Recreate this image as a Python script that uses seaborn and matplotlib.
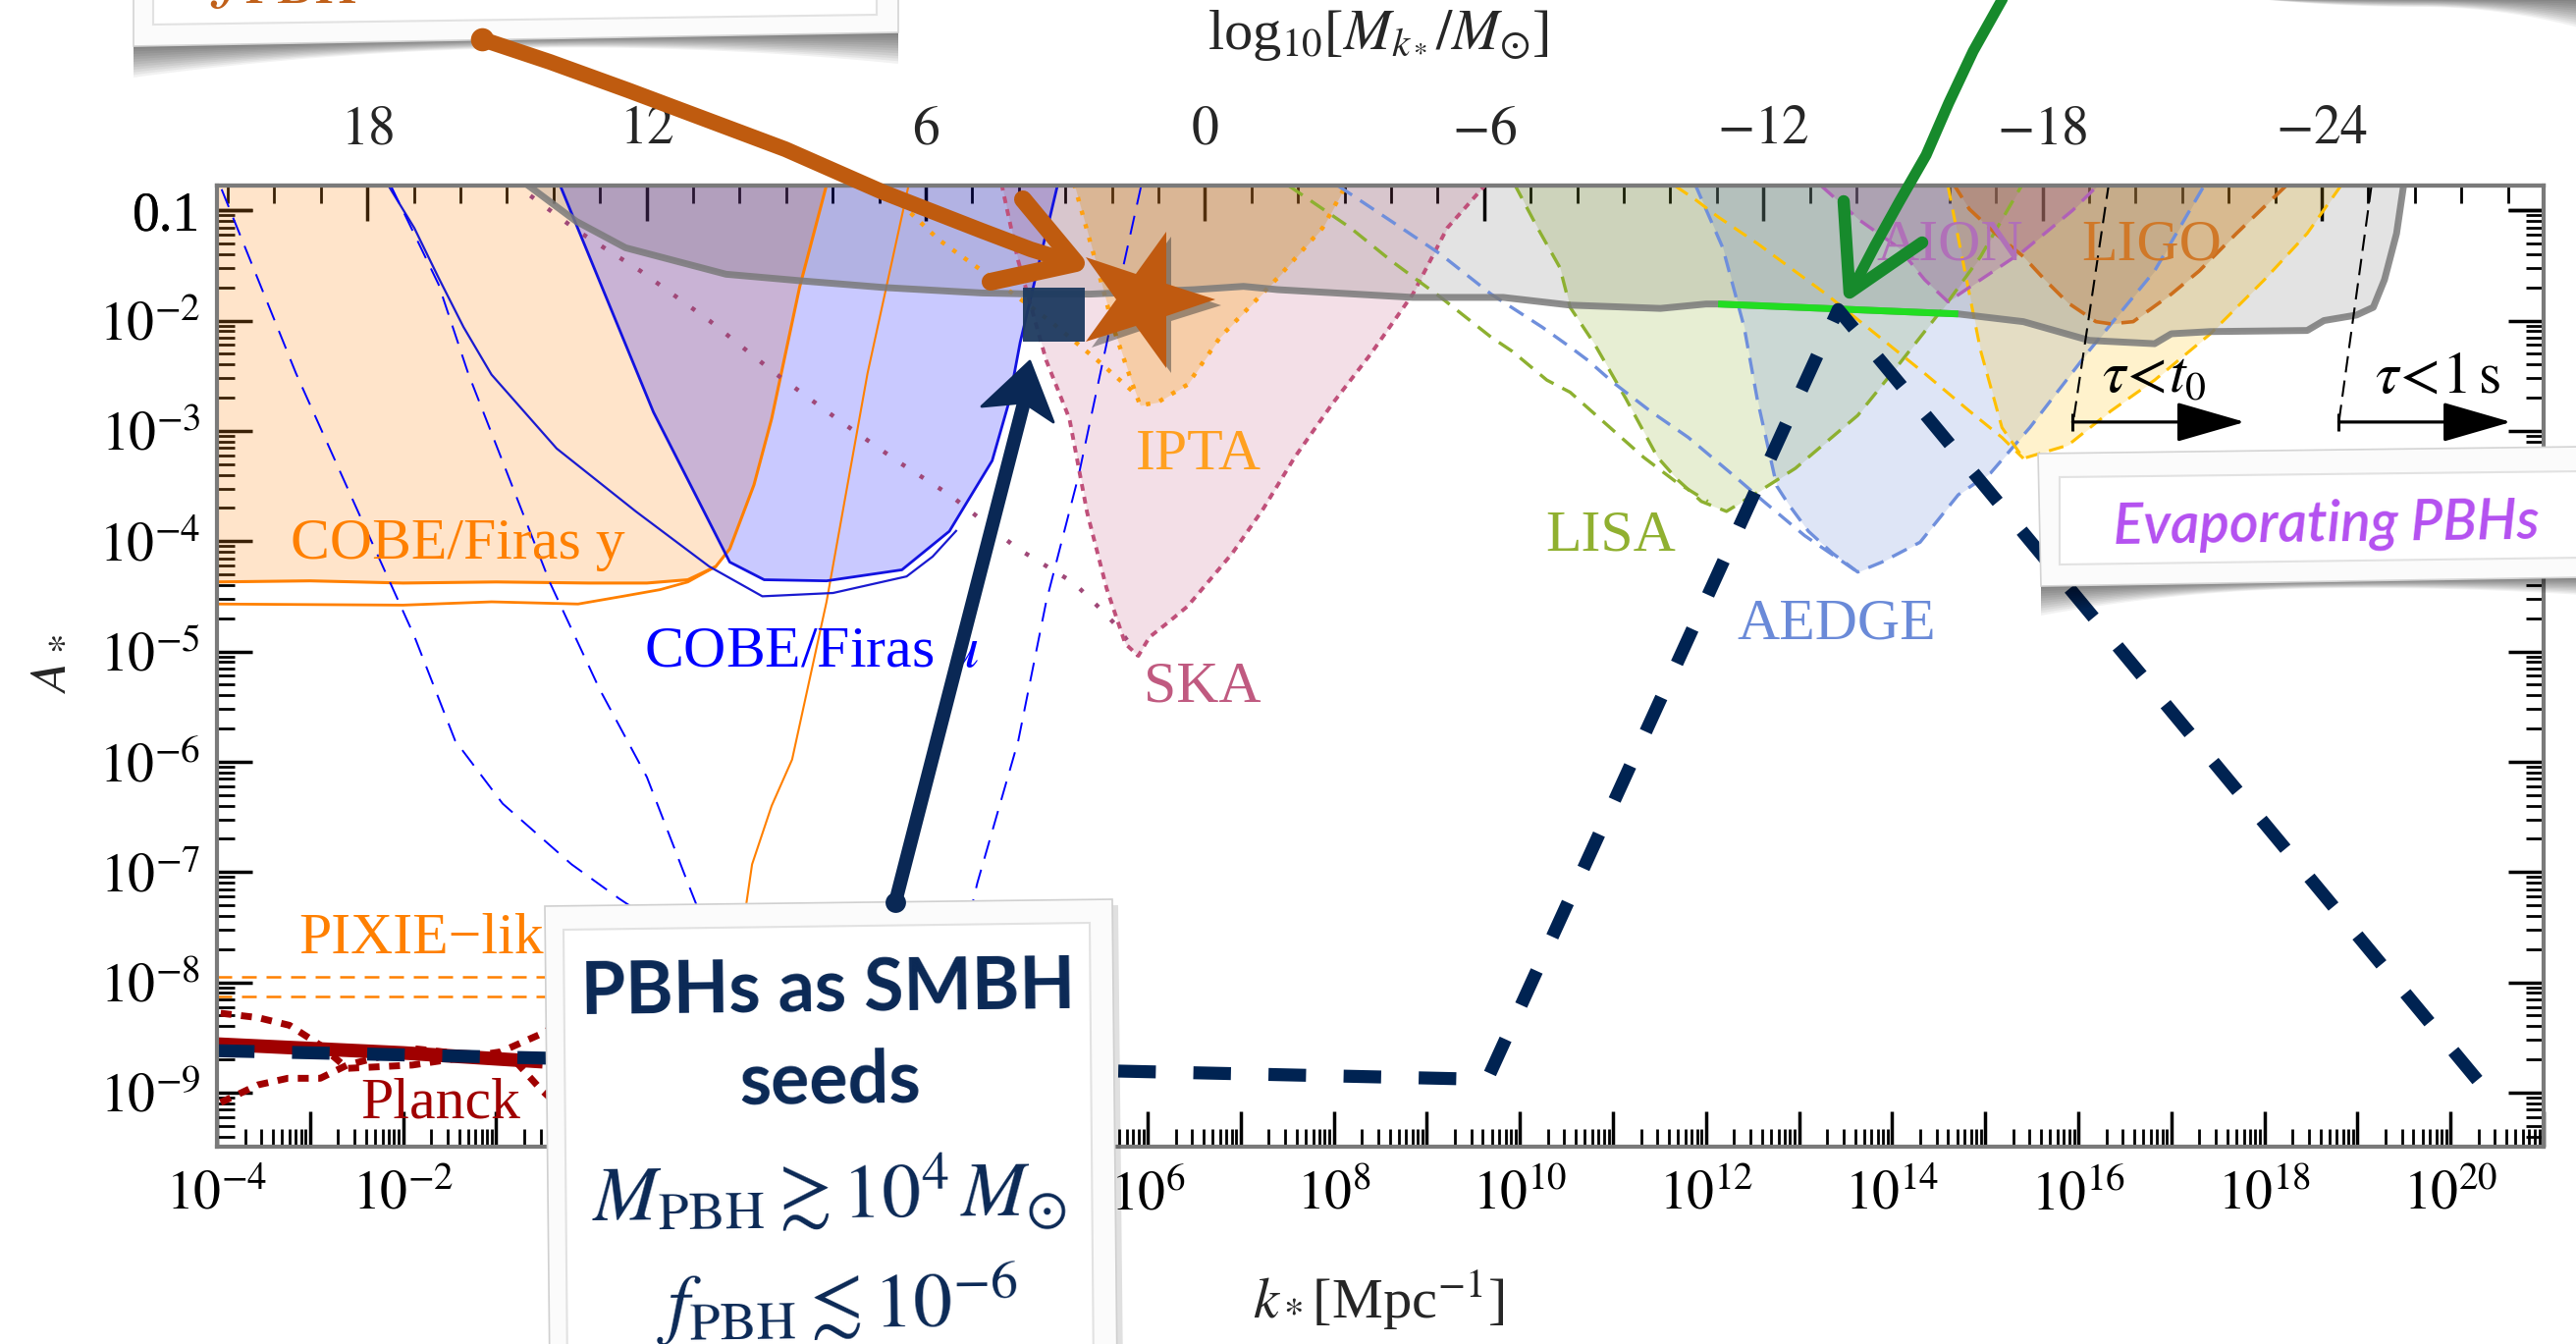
import numpy as np
import matplotlib
matplotlib.use("Agg")
import matplotlib.pyplot as plt
import matplotlib.ticker as mticker
import matplotlib.patheffects as pe
from matplotlib.lines import Line2D
from matplotlib.patches import Polygon, Rectangle
from matplotlib.markers import MarkerStyle
from matplotlib.transforms import Affine2D
import seaborn as sns

# ---------------------------------------------------------------------------
# Curves, given as log10 k_* [Mpc^-1] (_lk) and log10 A_* (_la)
# ---------------------------------------------------------------------------
cobe_y_lk = [-4.0, -3.0, -2.0, -1.0, 0.0, 0.62, 1.06, 1.36, 1.51, 1.77, 1.96, 2.26, 2.55]
cobe_y_la = [-4.37, -4.36, -4.38, -4.37, -4.38, -4.38, -4.35, -4.23, -4.07, -3.49, -2.89, -1.70, -0.77]

cobe_y2_lk = [-4.0, -2.0, -1.05, -0.12, 0.36, 0.76, 1.06, 1.36]
cobe_y2_la = [-4.57, -4.58, -4.55, -4.57, -4.50, -4.44, -4.37, -4.23]

pixie_mu_lk = [1.43, 1.61, 1.75, 1.96, 2.18, 2.55, 2.99, 3.43]
pixie_mu_la = [-9.5, -7.74, -6.93, -6.40, -5.98, -4.55, -2.48, -0.78]

pixie_lk = [-4.0, -2.0, 0.0]
pixie_a_la = [-7.95, -7.95, -7.95]
pixie_b_la = [-8.13, -8.13, -8.13]

cobe_mu_lk = [-0.31, 0.69, 1.51, 1.88, 2.55, 3.36, 3.87, 4.33, 4.51, 4.63, 5.03]
cobe_mu_la = [-0.78, -2.83, -4.19, -4.35, -4.36, -4.26, -3.91, -3.27, -2.74, -2.20, -0.78]

cobe_mu2_lk = [-2.17, -1.88, -1.62, -1.35, -1.05, -0.35, 0.50, 1.29, 1.86, 2.62, 3.41, 3.69, 3.95]
cobe_mu2_la = [-0.76, -1.16, -1.61, -2.06, -2.49, -3.16, -3.73, -4.23, -4.50, -4.47, -4.32, -4.14, -3.90]

mu_dash1_lk = [-3.95, -3.15, -2.48, -1.88, -1.44, -0.93, -0.19, 0.32, 0.73, 1.20]
mu_dash1_la = [-0.81, -2.48, -3.74, -4.86, -5.81, -6.38, -6.93, -7.24, -7.47, -7.80]

mu_dash2_lk = [-2.13, -1.62, -1.30, -0.86, -0.42, 0.11, 0.62, 1.06, 1.43]
mu_dash2_la = [-0.78, -1.67, -2.48, -3.43, -4.38, -5.34, -6.14, -7.10, -7.89]

mu_dash3_lk = [5.93, 5.67, 5.26, 4.91, 4.61, 4.17, 3.99, 3.80]
mu_dash3_la = [-0.78, -1.77, -3.40, -4.55, -5.81, -7.10, -7.74, -8.40]

nanograv_lk = [3.11, 3.46, 3.76, 4.19, 4.56, 4.96, 5.46, 5.85]
nanograv_la = [-0.78, -1.03, -1.27, -1.53, -1.76, -2.01, -2.36, -2.65]

ipta_lk = [5.21, 5.46, 5.63, 5.83, 5.92, 6.11, 6.43, 6.78, 7.40, 7.88, 8.12]
ipta_la = [-0.76, -1.52, -2.06, -2.56, -2.77, -2.74, -2.58, -2.15, -1.61, -1.16, -0.79]

ska_lk = [4.43, 4.61, 4.91, 5.16, 5.35, 5.56, 5.76, 5.90, 6.02, 6.23, 6.43, 6.91, 7.24,
          7.58, 7.98, 8.40, 8.85, 9.22, 9.64]
ska_la = [-0.76, -1.46, -2.36, -2.89, -3.74, -4.43, -4.93, -5.04, -4.87, -4.73, -4.59, -4.11,
          -3.71, -3.24, -2.76, -2.30, -1.76, -1.16, -0.76]

ska_now_lk = [-0.82, -0.12, 0.55, 1.29, 2.00, 2.71, 3.32, 3.89, 4.59, 5.21, 5.50, 5.67, 5.90]
ska_now_la = [-0.75, -1.19, -1.55, -2.00, -2.48, -2.92, -3.28, -3.59, -4.06, -4.38, -4.62, -4.77, -5.04]

lisa_lk = [9.94, 10.19, 10.43, 10.54, 10.80, 11.14, 11.48, 11.69, 11.95, 12.22, 12.55, 12.96,
           13.63, 14.07, 14.60, 14.95, 15.41]
lisa_la = [-0.76, -1.16, -1.52, -1.88, -2.21, -2.71, -3.24, -3.44, -3.64, -3.73, -3.56, -3.34,
           -2.86, -2.40, -1.83, -1.42, -0.75]

lisa_b_lk = [7.52, 8.18, 8.62, 9.15, 9.69, 9.92, 10.29, 10.54, 11.33, 11.69, 12.02]
lisa_b_la = [-0.78, -1.16, -1.46, -1.79, -2.15, -2.28, -2.54, -2.65, -3.24, -3.47, -3.64]

aedge_lk = [11.88, 12.18, 12.41, 12.55, 12.76, 12.89, 13.10, 13.36, 13.63, 13.89, 14.30, 14.71,
            15.06, 15.48, 16.12, 16.82, 17.35]
aedge_la = [-0.76, -1.34, -2.06, -2.71, -3.50, -3.67, -3.91, -4.11, -4.28, -4.19, -4.01, -3.58,
            -3.38, -2.97, -2.27, -1.55, -0.78]

aedge_b_lk = [8.05, 8.62, 9.15, 9.69, 10.24, 10.54, 10.73, 11.00, 11.40, 11.81, 12.29, 12.62,
              13.06, 13.63]
aedge_b_la = [-0.78, -1.10, -1.40, -1.76, -2.06, -2.24, -2.36, -2.56, -2.82, -3.06, -3.40, -3.64,
              -3.95, -4.28]

aion_lk = [13.24, 13.65, 14.07, 14.35, 14.60, 14.88, 15.41, 15.64, 15.94, 16.24]
aion_la = [-0.78, -1.09, -1.34, -1.63, -1.83, -1.67, -1.37, -1.21, -1.00, -0.75]

ligo_lk = [14.65, 14.83, 15.11, 15.41, 15.64, 15.89, 16.19, 16.35, 16.59, 17.00, 17.30, 17.70, 18.23]
ligo_la = [-0.75, -0.99, -1.21, -1.42, -1.63, -1.84, -2.01, -2.03, -2.01, -1.76, -1.55, -1.21, -0.78]

et_lk = [14.60, 14.95, 15.18, 15.41, 15.89, 16.35, 16.82, 17.42, 18.00, 18.46, 18.82]
et_la = [-0.78, -2.27, -2.97, -3.25, -3.13, -2.82, -2.54, -2.12, -1.63, -1.21, -0.78]

et_b_lk = [11.67, 11.88, 12.13, 12.55, 12.71, 13.29, 13.82, 14.35, 14.83, 15.18, 15.41]
et_b_la = [-0.78, -0.90, -1.06, -1.30, -1.40, -1.76, -2.12, -2.48, -2.82, -3.06, -3.25]

pbh_lk = [-0.68, -0.14, 0.39, 1.47, 2.28, 3.16, 4.22, 4.79, 5.39, 6.50, 7.03, 7.40, 8.85, 9.82,
          10.54, 11.51, 12.00, 12.13, 14.71, 15.41, 16.12, 16.82, 17.00, 17.42, 18.46, 18.64,
          18.99, 19.17, 19.29, 19.42, 19.50]
pbh_la = [-0.76, -1.10, -1.34, -1.58, -1.64, -1.70, -1.75, -1.76, -1.76, -1.72, -1.69, -1.72,
          -1.79, -1.79, -1.86, -1.89, -1.85, -1.85, -1.94, -2.01, -2.18, -2.21, -2.12, -2.10,
          -2.09, -2.00, -1.95, -1.88, -1.63, -1.21, -0.75]

pta_green_lk = [12.13, 14.71]
pta_green_la = [-1.85, -1.94]

planck_lk = [-4.0, -2.0, -0.5]
planck_la = [-8.56, -8.64, -8.72]
planck_hi_lk = [-3.96, -3.56, -3.22, -2.89, -2.60, -1.90, -0.95, -0.47, -0.10]
planck_hi_la = [-8.28, -8.32, -8.39, -8.57, -8.78, -8.75, -8.63, -8.45, -8.20]
planck_lo_lk = [-3.96, -3.56, -3.24, -2.89, -2.60, -1.90, -0.81, -0.52, -0.10]
planck_lo_la = [-9.09, -8.93, -8.87, -8.87, -8.75, -8.60, -8.70, -8.97, -9.30]

model_lk = [-4.0, 9.65, 13.42, 20.45]
model_la = [-8.62, -8.88, -1.90, -9.05]

seed_box_lk = [4.66, 5.33]
seed_box_la = [-2.19, -1.70]
star_lk, star_la = 5.96, -1.81

tau_t0_lk = [16.33, 15.94]
tau_t0_la = [-0.75, -2.95]
tau_1s_lk = [19.15, 18.80]
tau_1s_la = [-0.78, -2.92]
tau_arrow_la = -2.92
tau_t0_arrow_lk = [15.94, 17.79]
tau_1s_arrow_lk = [18.80, 20.65]

x_tick_exponents = list(range(-4, 22))
x_label_exponents = [-4, -2, 6, 8, 10, 12, 14, 16, 18, 20]
y_tick_exponents = list(range(-9, 0))
mass_ticks = [18, 12, 6, 0, -6, -12, -18, -24]
mass_minor = list(range(-29, 23))
LOG_M0 = 13.23  # log10 M_k [M_sun] at k = 1 Mpc^-1, with M_k ∝ k^-2

# ---------------------------------------------------------------------------
sns.set_theme(style="white")
plt.rcParams["font.family"] = ["Liberation Serif", "DejaVu Serif"]
plt.rcParams["mathtext.fontset"] = "stix"
plt.rcParams["axes.unicode_minus"] = True

W, H = 2624, 1369
fig = plt.figure(figsize=(W / 100, H / 100), dpi=100)
fig.patch.set_facecolor("white")
ax = fig.add_axes([221 / W, 1 - 1168 / H, 2370 / W, 979 / H])
ax.set_facecolor("white")
ax.set_xscale("log")
ax.set_yscale("log")
XLIM = (1e-4, 1e21)
YLIM = (10 ** -9.49, 10 ** -0.776)
ax.set_xlim(*XLIM)
ax.set_ylim(*YLIM)
TOP = 1.0


def K(a):
    return np.power(10.0, np.asarray(a, dtype=float))


def curve(lk, la, color, lw, ls="-", z=2, alpha=1.0, cap="butt"):
    sns.lineplot(x=K(lk), y=K(la), ax=ax, estimator=None, sort=False, legend=False,
                 color=color, linewidth=lw, linestyle=ls, alpha=alpha, zorder=z,
                 dash_capstyle=cap, solid_capstyle=cap)


def region(lk, la, color, alpha, z=1):
    ax.fill_between(K(lk), K(la), TOP, color=color, alpha=alpha, lw=0, zorder=z)


# shaded regions
region(cobe_y_lk, cobe_y_la, "#ff8c1a", 0.23)
region(cobe_mu_lk, cobe_mu_la, "#0000ff", 0.21)
region(ska_lk, ska_la, "#c0507a", 0.18)
region(ipta_lk, ipta_la, "#ffa000", 0.27)
region(lisa_lk, lisa_la, "#90b030", 0.21)
region(aedge_lk, aedge_la, "#6a8ad8", 0.22)
region(et_lk, et_la, "#ffc000", 0.20)
region(ligo_lk, ligo_la, "#d07020", 0.24)
region(aion_lk, aion_la, "#b060b0", 0.28)
region(pbh_lk, pbh_la, "#000000", 0.11)

# CMB spectral distortions
curve(cobe_y_lk, cobe_y_la, "#ff8000", 2.2)
curve(cobe_y2_lk, cobe_y2_la, "#ff8000", 2.0)
curve(pixie_mu_lk, pixie_mu_la, "#ff8000", 1.5)
curve(pixie_lk, pixie_a_la, "#ff8000", 1.8, ls=(0, (6, 4)))
curve(pixie_lk, pixie_b_la, "#ff8000", 1.8, ls=(0, (6, 4)))
curve(cobe_mu_lk, cobe_mu_la, "#1212e0", 2.0)
curve(cobe_mu2_lk, cobe_mu2_la, "#1a1ad0", 1.6)
for lk, la in [(mu_dash1_lk, mu_dash1_la), (mu_dash2_lk, mu_dash2_la), (mu_dash3_lk, mu_dash3_la)]:
    curve(lk, la, "#0000ff", 1.4, ls=(0, (10, 6)))

# pulsar timing arrays
curve(ska_now_lk, ska_now_la, "#a04878", 3.2, ls=(0, (1, 4)))
curve(nanograv_lk, nanograv_la, "#ffa010", 3.2, ls=(0, (1, 2.2)))
curve(ipta_lk, ipta_la, "#ffa010", 3.2, ls=(0, (1, 2.2)))
curve(ska_lk, ska_la, "#c0507a", 2.8, ls=(0, (1.8, 1.6)))

# interferometers
curve(lisa_lk, lisa_la, "#8db030", 2.4, ls=(0, (5, 3)))
curve(lisa_b_lk, lisa_b_la, "#8db030", 2.4, ls=(0, (5, 3)))
curve(aedge_lk, aedge_la, "#6f8fdc", 2.4, ls=(0, (5, 3)))
curve(aedge_b_lk, aedge_b_la, "#6f8fdc", 2.4, ls=(0, (5, 3)))
curve(et_lk, et_la, "#ffc000", 2.2, ls=(0, (5, 3)))
curve(et_b_lk, et_b_la, "#ffc000", 2.2, ls=(0, (5, 3)))
curve(aion_lk, aion_la, "#b060b8", 2.4, ls=(0, (5, 3)))
curve(ligo_lk, ligo_la, "#cc6e1c", 2.6, ls=(0, (5, 3)))

# PBH overproduction bound
curve(pbh_lk, pbh_la, "#7a7a7a", 5.0, alpha=0.85, cap="round")
curve(pta_green_lk, pta_green_la, "#22dd22", 5.0)

# Planck
curve(planck_hi_lk, planck_hi_la, "#a00000", 5.0, ls=(0, (1.6, 1.4)))
curve(planck_lo_lk, planck_lo_la, "#a00000", 5.0, ls=(0, (1.6, 1.4)))
curve(planck_lk, planck_la, "#a00000", 10.0)

# evaporation limits
curve(tau_t0_lk, tau_t0_la, "black", 1.5, ls=(0, (8, 4)), z=3)
curve(tau_1s_lk, tau_1s_la, "black", 1.5, ls=(0, (8, 4)), z=3)
for lk in (tau_t0_arrow_lk, tau_1s_arrow_lk):
    ax.annotate("", xy=(K(lk[1]), K(tau_arrow_la)), xytext=(K(lk[0]), K(tau_arrow_la)),
                arrowprops=dict(arrowstyle="-|>,head_length=2.6,head_width=0.75",
                                lw=2.3, color="black", mutation_scale=17,
                                shrinkA=0, shrinkB=0), zorder=4)
    ax.plot(K(lk[0]), K(tau_arrow_la), marker="|", ms=13, mew=2.2, color="black", zorder=4)

# model power spectrum
curve(model_lk, model_la, "#002352", 9.5, ls=(0, (2.9, 2.9)), z=5)

# seed-mass marker and star
ax.add_patch(Rectangle((K(seed_box_lk[0]), K(seed_box_la[0])),
                       K(seed_box_lk[1]) - K(seed_box_lk[0]),
                       K(seed_box_la[1]) - K(seed_box_la[0]),
                       facecolor="#1d3a5f", edgecolor="none", alpha=0.95, zorder=6))
star = MarkerStyle("*", transform=Affine2D().rotate_deg(-18))
ax.plot(K(star_lk), K(star_la), marker=star, ms=105, color="#c05a10", mec="none", zorder=7,
        path_effects=[pe.SimplePatchShadow(offset=(4, -4), shadow_rgbFace="#303030", alpha=0.45),
                      pe.Normal()])

# region labels
lab = dict(fontsize=43, ha="center", va="baseline", zorder=4)
ax.text(K(-1.41), K(-4.16), "COBE/Firas y", color="#ff8000", **lab)
ax.text(K(2.39), K(-5.14), r"COBE/Firas $\mu$", color="#0000ff", **lab)
ax.text(K(-3.12), K(-7.73), "PIXIE\u2212like", color="#ff8000", fontsize=43, ha="left",
        va="baseline", zorder=4)
ax.text(K(-1.60), K(-9.23), "Planck", color="#a00000", **lab)
ax.text(K(6.55), K(-3.35), "IPTA", color="#ffa020", **lab)
ax.text(K(6.59), K(-5.45), "SKA", color="#c05a80", **lab)
ax.text(K(10.98), K(-4.08), "LISA", color="#90b030", **lab)
ax.text(K(13.40), K(-4.88), "AEDGE", color="#6a8ad8", **lab)
ax.text(K(14.62), K(-1.45), "AION", color="#b070b8", **lab)
ax.text(K(16.79), K(-1.45), "LIGO", color="#d07828", **lab)
ax.text(K(16.82), K(-2.65), r"$\tau\!<\!t_0$", color="black", **lab)
ax.text(K(19.86), K(-2.65), r"$\tau\!<\!1\,\mathrm{s}$", color="black", **lab)

# axes, ticks
ax.set_xlim(*XLIM)
ax.set_ylim(*YLIM)
ax.xaxis.set_major_locator(mticker.FixedLocator(K(x_tick_exponents)))
ax.xaxis.set_minor_locator(mticker.LogLocator(base=10.0, subs=np.arange(2, 10) * 1.0, numticks=1000))
ax.xaxis.set_major_formatter(mticker.FuncFormatter(
    lambda v, p: (r"$10^{%d}$" % round(np.log10(v))) if round(np.log10(v)) in x_label_exponents else ""))
ax.xaxis.set_minor_formatter(mticker.NullFormatter())
ax.yaxis.set_major_locator(mticker.FixedLocator(K(y_tick_exponents + [-1])))
ax.yaxis.set_minor_locator(mticker.LogLocator(base=10.0, subs=np.arange(2, 10) * 1.0, numticks=1000))
ax.yaxis.set_major_formatter(mticker.FuncFormatter(
    lambda v, p: "0.1" if round(np.log10(v)) == -1 else r"$10^{%d}$" % round(np.log10(v))))
ax.yaxis.set_minor_formatter(mticker.NullFormatter())

ax.tick_params(axis="both", which="major", direction="in", length=26, width=2.5, color="black",
               labelsize=40, labelcolor="black")
ax.tick_params(axis="both", which="minor", direction="in", length=13, width=2.0, color="black")
ax.tick_params(axis="x", which="both", bottom=True, top=False, pad=17)
ax.tick_params(axis="y", which="both", left=True, right=True, labelright=False, pad=12)
ax.grid(False)
for s in ax.spines.values():
    s.set_color("#7a7a7a")
    s.set_linewidth(3)
    s.set_zorder(8)


# top axis: horizon mass M_k as a function of k (log scale, M ∝ k^-2)
def k_to_mass(k):
    k = np.clip(np.asarray(k, dtype=float), 1e-300, None)
    return np.power(10.0, LOG_M0 - 2.0 * np.log10(k))


def mass_to_k(m):
    m = np.clip(np.asarray(m, dtype=float), 1e-300, None)
    return np.power(10.0, (LOG_M0 - np.log10(m)) / 2.0)


sec = ax.secondary_xaxis("top", functions=(k_to_mass, mass_to_k))
sec.xaxis.set_major_locator(mticker.FixedLocator(K(mass_ticks)))
sec.xaxis.set_minor_locator(mticker.FixedLocator(K(mass_minor)))
sec.xaxis.set_major_formatter(mticker.FuncFormatter(lambda v, p: r"$%d$" % round(np.log10(v))))
sec.xaxis.set_minor_formatter(mticker.NullFormatter())
sec.tick_params(axis="x", which="major", direction="in", length=26, width=2.5, pad=22,
                labelsize=40, color="black")
sec.tick_params(axis="x", which="minor", direction="in", length=13, width=2.0, color="black")
for s in sec.spines.values():
    s.set_color("#7a7a7a")
    s.set_linewidth(3)

fig.text(1404 / W, 1 - 36 / H, r"log$_{10}$[$M_{k_*}/M_{\odot}$]", fontsize=42,
         ha="center", va="center")
fig.text(1404 / W, 1 - 1325 / H, r"$k_*$[Mpc$^{-1}$]", fontsize=42, ha="center", va="center")
fig.text(50 / W, 1 - 678 / H, r"$A_*$", fontsize=42, ha="center", va="center", rotation=90)


# ---------------------------------------------------------------------------
# note cards and hand-drawn arrows (figure pixel coordinates)
# ---------------------------------------------------------------------------
def fx(x):
    return x / W


def fy(y):
    return 1 - y / H


def fig_poly(pts, z=20, **kw):
    fig.add_artist(Polygon([(fx(x), fy(y)) for x, y in pts], closed=True,
                           transform=fig.transFigure, zorder=z, **kw))


def fig_line(pts, color, lw, z=25, **kw):
    fig.add_artist(Line2D([fx(p[0]) for p in pts], [fy(p[1]) for p in pts],
                          transform=fig.transFigure, color=color, lw=lw,
                          solid_capstyle="round", solid_joinstyle="round", zorder=z, **kw))


def shadow(p0, p1, d0, dm, d1, z=19, n=12, a=0.05):
    t = np.linspace(0, 1, 60)
    xs = p0[0] + (p1[0] - p0[0]) * t
    ys = p0[1] + (p1[1] - p0[1]) * t
    depth = dm + (d0 - dm) * np.clip(1 - 2 * t, 0, 1) ** 2 + (d1 - dm) * np.clip(2 * t - 1, 0, 1) ** 2
    for i in range(1, n + 1):
        f = i / n
        pts = list(zip(xs, ys)) + list(zip(xs[::-1], (ys + depth * f)[::-1]))
        fig_poly(pts, z=z, facecolor="black", edgecolor="none", alpha=a)


# card above the top-left corner
shadow((136, 47), (915, 33), 32, 9, 32)
fig_poly([(136, -30), (915, -30), (915, 33), (136, 47)], facecolor="#fbfbfb",
         edgecolor="#d4d4d4", lw=1.2)
fig_poly([(156, -30), (893, -30), (893, 15), (156, 25)], z=21, facecolor="white",
         edgecolor="#e2e2e2", lw=1.5)
fig.text(fx(214), fy(-8), r"$f_{\mathrm{PBH}}$", fontsize=60, color="#c0601a",
         ha="left", va="baseline", zorder=22)

# card above the top-right corner (only its shadow shows)
shadow((2300, -1), (2630, -1), 0, 8, 30)

# evaporating-PBH card
shadow((2079, 597), (2630, 588), 30, 7, 18)
fig_poly([(2076, 462), (2630, 455), (2630, 588), (2079, 597)], facecolor="#fbfbfb",
         edgecolor="#d4d4d4", lw=1.2)
fig_poly([(2098, 486), (2630, 480), (2630, 568), (2098, 575)], z=21, facecolor="white",
         edgecolor="#e2e2e2", lw=1.5)
fig.text(fx(2370), fy(551), "Evaporating PBHs", fontsize=41, color="#b450f0",
         family=["Lato", "DejaVu Sans"], style="italic", weight="semibold",
         ha="center", va="baseline", rotation=0.7, rotation_mode="anchor", zorder=22)

# SMBH-seed card
fig_poly([(561, 929), (1139, 922), (1144, 1400), (566, 1400)], z=19, facecolor="black",
         edgecolor="none", alpha=0.12)
fig_poly([(555, 923), (1133, 916), (1138, 1400), (560, 1400)], facecolor="#fbfbfb",
         edgecolor="#d0d0d0", lw=1.2)
fig_poly([(574, 947), (1110, 940), (1114, 1400), (578, 1400)], z=21, facecolor="white",
         edgecolor="#e2e2e2", lw=1.5)
navy = "#0a2855"
card = dict(ha="center", va="baseline", rotation=0.7, rotation_mode="anchor", zorder=22, color=navy)
fig.text(fx(844), fy(1030), "PBHs as SMBH", fontsize=53, family=["Lato", "DejaVu Sans"],
         weight="bold", **card)
fig.text(fx(846), fy(1123), "seeds", fontsize=53, family=["Lato", "DejaVu Sans"],
         weight="bold", **card)
fig.text(fx(845), fy(1240), r"$M_{\mathrm{PBH}} \gtrsim 10^4\,M_{\odot}$", fontsize=57, **card)
fig.text(fx(853), fy(1353), r"$f_{\mathrm{PBH}} \lesssim 10^{-6}$", fontsize=57, **card)

# hand-drawn arrows
brown = "#bf5b0f"
fig_line([(491, 40), (560, 63), (640, 92), (720, 122), (800, 152), (900, 196), (1000, 235),
          (1050, 254), (1092, 267)], brown, 11.5)
fig_line([(491, 40)], brown, 1, marker="o", ms=17, mec="none")
fig_line([(1042, 203), (1096, 268), (1009, 287)], brown, 13)

fig_line([(912, 919), (1043, 410)], navy, 10)
fig_line([(912, 919)], navy, 1, marker="o", ms=15, mec="none")
fig_poly([(1049, 368), (1073, 430), (1043, 410), (1000, 414)], z=25, facecolor=navy,
         edgecolor=navy, lw=2, joinstyle="round")

green = "#178a2c"
fig_line([(2042, -5), (2010, 52), (1985, 105), (1962, 158), (1935, 205), (1910, 250),
          (1886, 296)], green, 8)
fig_line([(1878, 205), (1884, 298), (1958, 247)], green, 9)

fig.savefig("out.png", dpi=100, facecolor="white")
